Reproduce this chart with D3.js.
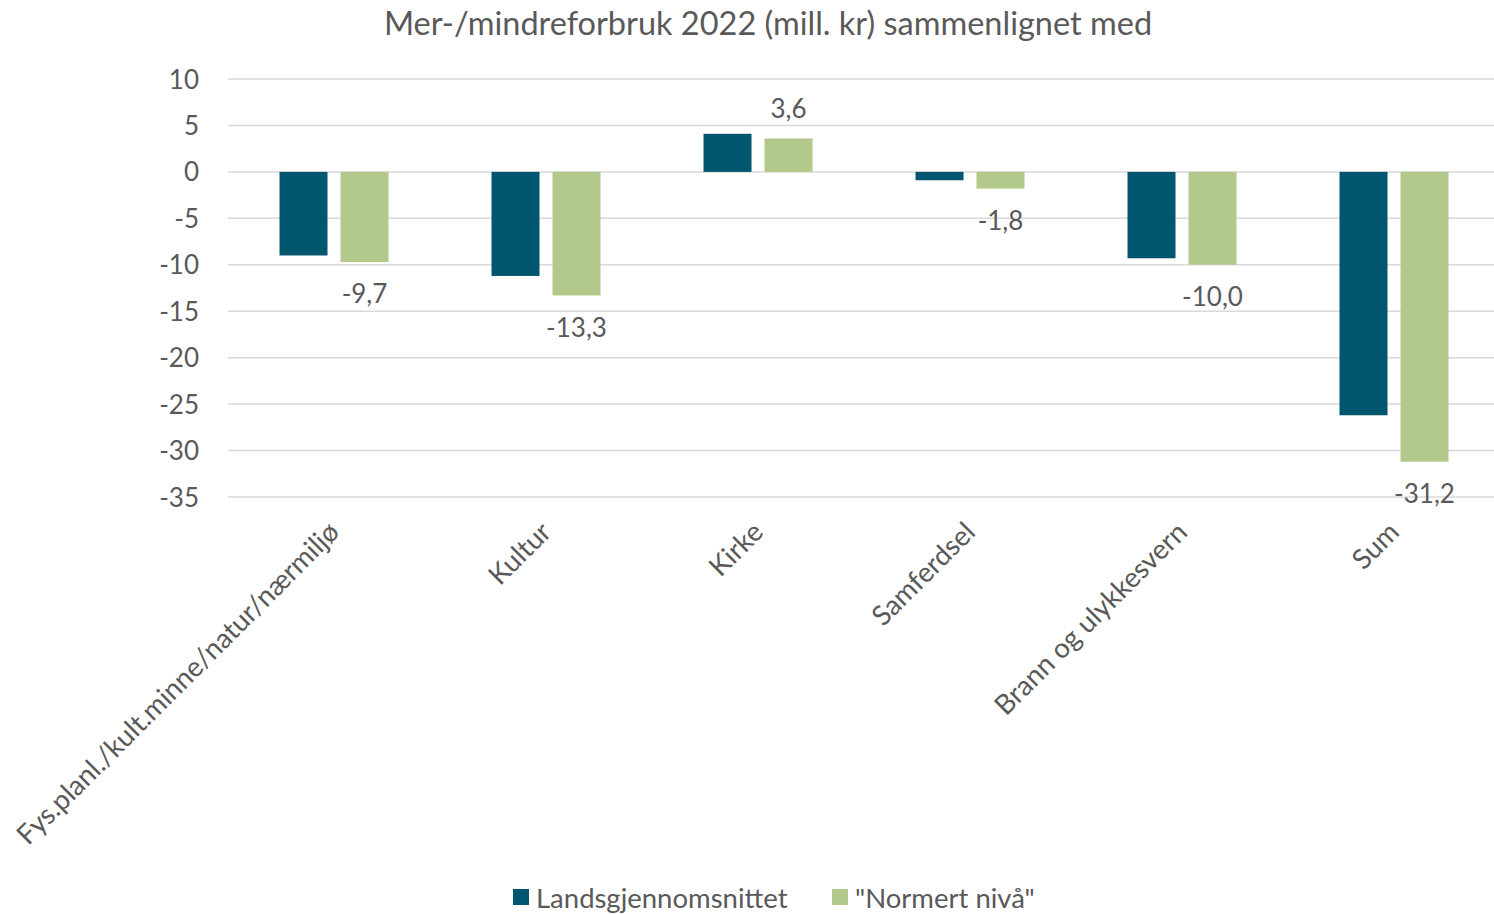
<!DOCTYPE html>
<html lang="no">
<head>
    <meta charset="UTF-8">
    <title>Mer-/mindreforbruk 2022</title>
    <script src="https://cdn.jsdelivr.net/npm/d3@7"></script>
    <style>
        body { margin: 0; background: #fff; }
        svg text { font-family: Lato, "Open Sans", sans-serif; fill: #595959; }
    </style>
</head>
<body>
    <svg id="chart" width="1494" height="914"></svg>
    <script>
        var categories = ["Fys.planl./kult.minne/natur/nærmiljø", "Kultur", "Kirke", "Samferdsel", "Brann og ulykkesvern", "Sum"];
        var seriesNames = ["Landsgjennomsnittet", "\"Normert nivå\""];
        var lands = [-9.0, -11.2, 4.1, -0.9, -9.3, -26.2];
        var normert = [-9.7, -13.3, 3.6, -1.8, -10.0, -31.2];
        var yTicks = [10, 5, 0, -5, -10, -15, -20, -25, -30, -35];
        var colors = ["#00566e", "#b3c98b"];

        var svg = d3.select("#chart");
        var plotL = 228, plotR = 1500, plotT = 79, plotB = 497;

        var x = d3.scaleBand().domain(categories).range([plotL, plotR]);
        var y = d3.scaleLinear().domain([-35, 10]).range([plotB, plotT]);
        var barW = 48, gap = 13;
        var fmt = d => String(d).replace(".", ",");

        // title
        svg.append("text")
            .attr("x", 768).attr("y", 35)
            .attr("text-anchor", "middle")
            .style("font-size", "32.5px")
            .text("Mer-/mindreforbruk 2022 (mill. kr) sammenlignet med");

        // gridlines
        svg.append("g").selectAll("line").data(yTicks).join("line")
            .attr("x1", plotL).attr("x2", plotR)
            .attr("y1", d => y(d)).attr("y2", d => y(d))
            .attr("stroke", "#d9d9d9").attr("stroke-width", 1.5);

        // y axis labels
        var yAxis = d3.axisLeft(y).tickValues(yTicks).tickSize(0).tickPadding(0).tickFormat(fmt);
        var gy = svg.append("g").attr("transform", "translate(199,0)").call(yAxis);
        gy.select(".domain").remove();
        gy.selectAll("text").style("font-size", "26px").style("font-family", "Lato, sans-serif")
            .attr("fill", "#595959").attr("dy", "0.35em");

        var series = [lands, normert];
        series.forEach(function (vals, s) {
            svg.append("g").selectAll("rect").data(vals).join("rect")
                .attr("x", (d, i) => x(categories[i]) + x.bandwidth() / 2 - (barW * 2 + gap) / 2 + s * (barW + gap))
                .attr("width", barW)
                .attr("y", d => y(Math.max(0, d)))
                .attr("height", d => Math.abs(y(d) - y(0)))
                .attr("fill", colors[s]);
        });

        // data labels for "Normert nivå"
        svg.append("g").selectAll("text").data(normert).join("text")
            .attr("x", (d, i) => x(categories[i]) + x.bandwidth() / 2 + gap / 2 + barW / 2)
            .attr("y", d => d < 0 ? y(d) + 32 : y(d) - 30)
            .attr("dy", "0.35em")
            .attr("text-anchor", "middle")
            .style("font-size", "26px")
            .text(d => d3.format(".1f")(d).replace(".", ",").replace("−", "-"));

        // x labels rotated
        svg.append("g").selectAll("text").data(categories).join("text")
            .attr("transform", d => "translate(" + (x(d) + x.bandwidth() / 2 + 0) + "," + 527 + ") rotate(-45)")
            .attr("text-anchor", "end")
            .attr("dy", "0.35em")
            .style("font-size", "27.5px")
            .text(d => d);

        // legend
        var legX = [513, 832];
        var lg = svg.append("g").selectAll("g").data(seriesNames).join("g")
            .attr("transform", (d, i) => "translate(" + legX[i] + ",889)");
        lg.append("rect").attr("width", 16).attr("height", 16).attr("fill", (d, i) => colors[i]);
        lg.append("text").attr("x", 23).attr("y", 9).attr("dy", "0.35em")
            .style("font-size", "27.5px").text(d => d);
    </script>
</body>
</html>
